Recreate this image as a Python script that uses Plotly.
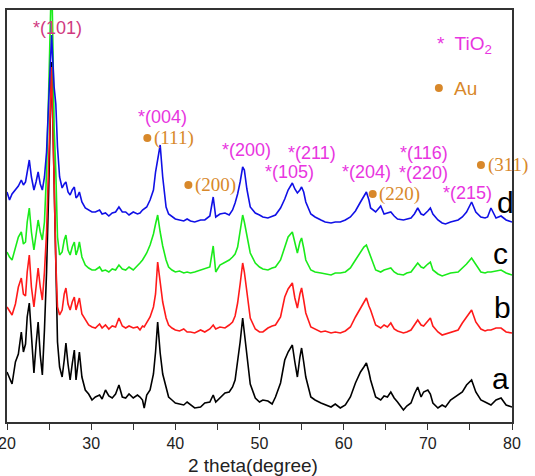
import plotly.graph_objects as go

# 2theta grid (degrees)
two_theta = [
    20.0, 20.3, 20.6, 21.0, 21.35, 21.7, 21.95, 22.2, 22.4, 22.65,
    22.9, 23.2, 23.45, 23.7, 23.95, 24.2, 24.45, 24.7, 24.95, 25.15,
    25.3, 25.45, 25.6, 25.8, 26.0, 26.25, 26.55, 26.8, 27.0, 27.25,
    27.5, 27.75, 28.0, 28.2, 28.4, 28.6, 28.9, 29.3, 29.7, 30.1,
    30.5, 31.0, 31.3, 31.7, 32.1, 32.5, 32.9, 33.3, 33.7, 34.1,
    34.5, 35.0, 35.5, 35.8, 36.1, 36.3, 36.6, 37.0, 37.4, 37.65,
    37.9, 38.2, 38.5, 38.9, 39.2, 39.6, 40.0, 40.5, 41.0, 41.4,
    41.8, 42.3, 43.0, 43.5, 44.1, 44.5, 44.8, 45.3, 45.9, 46.4,
    46.8, 47.1, 47.4, 47.7, 48.0, 48.2, 48.5, 48.9, 49.5, 50.0,
    50.4, 51.0, 51.5, 51.9, 52.5, 53.0, 53.4, 53.9, 54.2, 54.5,
    54.8, 55.0, 55.25, 55.5, 56.1, 56.6, 57.3, 57.8, 58.5, 59.0,
    59.6, 60.2, 60.8, 61.4, 62.0, 62.4, 62.7, 63.0, 63.2, 63.8,
    64.4, 64.8, 65.2, 65.6, 66.0, 66.4, 67.1, 67.5, 68.0, 68.4,
    68.8, 69.2, 69.5, 70.0, 70.3, 70.6, 71.2, 71.7, 72.1, 72.7,
    73.6, 74.1, 74.6, 75.2, 75.7, 76.3, 76.8, 77.1, 77.5, 78.1,
    78.7, 79.3, 80.0,
]

# stacked intensities (a.u.)
int_a = [
    50, 44, 38, 60, 68, 90, 70, 78, 105, 119,
    82, 49, 77, 100, 67, 47, 92, 150, 230, 310,
    360, 300, 230, 150, 80, 55, 45, 62, 79, 58,
    42, 58, 72, 42, 55, 70, 45, 32, 28, 22,
    25, 27, 23, 32, 26, 24, 28, 37, 25, 24,
    28, 24, 27, 25, 22, 14, 27, 32, 48, 70,
    100, 69, 48, 35, 25, 22, 19, 18, 17, 20,
    17, 14, 15, 19, 20, 27, 20, 24, 29, 30,
    35, 42, 59, 80, 104, 90, 66, 38, 24, 20,
    22, 21, 18, 25, 39, 62, 70, 77, 60, 45,
    65, 74, 60, 45, 25, 22, 19, 17, 15, 18,
    14, 17, 25, 39, 50, 55, 59, 50, 42, 25,
    22, 26, 25, 30, 24, 20, 12, 16, 19, 28,
    35, 25, 30, 32, 28, 19, 14, 17, 15, 22,
    27, 30, 37, 42, 30, 22, 20, 19, 17, 22,
    24, 17, 15,
]
int_b = [
    115, 111, 107, 118, 135, 144, 128, 126, 150, 167,
    135, 115, 138, 154, 135, 122, 150, 190, 260, 320,
    355, 300, 230, 160, 115, 107, 112, 128, 134, 118,
    112, 120, 125, 112, 118, 124, 108, 102, 97, 95,
    94, 98, 94, 97, 93, 96, 95, 104, 96, 94,
    96, 94, 95, 92, 96, 95, 99, 105, 115, 128,
    160, 142, 120, 104, 97, 94, 92, 91, 93, 90,
    90, 89, 92, 90, 93, 97, 93, 95, 94, 97,
    100, 106, 119, 138, 159, 150, 128, 104, 93, 90,
    90, 94, 96, 97, 105, 125, 133, 139, 124, 114,
    128, 134, 122, 109, 95, 93, 90, 91, 89, 90,
    89, 91, 95, 105, 114, 120, 124, 116, 112, 97,
    94, 97, 95, 99, 93, 91, 89, 90, 92, 97,
    102, 97, 96, 101, 104, 96, 90, 87, 88, 89,
    92, 99, 105, 112, 100, 93, 91, 92, 92, 94,
    94, 90, 89,
]
int_c = [
    170, 165, 162, 175, 185, 190, 178, 180, 200, 214,
    190, 172, 190, 202, 190, 182, 200, 250, 330, 410,
    452, 380, 295, 250, 185, 167, 170, 182, 187, 172,
    167, 175, 180, 167, 172, 180, 165, 157, 154, 152,
    152, 155, 151, 152, 150, 153, 152, 157, 153, 152,
    155, 152, 156, 159, 162, 165, 169, 177, 188, 198,
    207, 190, 176, 162, 155, 152, 150, 151, 149, 150,
    149, 150, 152, 153, 155, 176, 150, 157, 160, 162,
    165, 168, 175, 192, 207, 200, 186, 169, 159, 155,
    153, 152, 154, 155, 162, 175, 185, 190, 178, 169,
    180, 184, 174, 162, 152, 150, 149, 148, 147, 149,
    149, 150, 154, 162, 170, 175, 177, 170, 164, 152,
    150, 152, 153, 154, 150, 148, 147, 149, 150, 154,
    159, 155, 154, 158, 160, 152, 148, 146, 147, 149,
    150, 154, 158, 164, 157, 150, 149, 150, 150, 151,
    152, 149, 147,
]
int_d = [
    230, 222, 228, 232, 236, 242, 237, 240, 252, 262,
    245, 232, 240, 250, 238, 232, 245, 270, 320, 360,
    387, 360, 335, 318, 275, 245, 234, 238, 240, 230,
    227, 232, 235, 224, 226, 230, 220, 214, 212, 210,
    210, 212, 208, 209, 206, 209, 210, 215, 210, 210,
    207, 210, 208, 209, 212, 213, 215, 222, 232, 250,
    262, 277, 245, 215, 208, 205, 203, 202, 201, 203,
    201, 200, 202, 202, 206, 225, 205, 208, 209, 207,
    212, 219, 228, 240, 255, 252, 233, 215, 209, 207,
    205, 204, 206, 207, 214, 223, 232, 239, 233, 229,
    232, 235, 230, 220, 208, 205, 202, 200, 199, 200,
    200, 202, 205, 211, 220, 226, 230, 222, 214, 210,
    216, 208, 209, 210, 206, 203, 202, 203, 204, 208,
    214, 208, 207, 211, 214, 208, 202, 199, 198, 200,
    202, 205, 210, 220, 210, 205, 204, 205, 214, 204,
    206, 202, 200,
]

series_names = ["a", "b", "c", "d"]
series_colors = ["#000000", "#ff1a1a", "#1aeb1a", "#1010e6"]

# peak labels
tio2_labels = ["*(004)", "*(200)", "*(211)", "*(105)", "*(204)", "*(116)", "*(220)", "*(215)"]
tio2_x = [38.45, 48.45, 56.19, 53.57, 62.74, 69.52, 69.52, 74.76]
tio2_y = [305, 272, 269, 250, 250, 269, 249, 229]

au_labels = ["(111)", "(200)", "(220)", "(311)"]
au_dot_x = [36.67, 41.55, 63.45, 76.31]
au_dot_y = [284, 237, 228, 257]

curve_label_x = [78.69, 78.93, 78.69, 79.17]
curve_label_y = [44, 115, 169, 220]

MAG = "#e835e0"
ORG = "#d8882a"

fig = go.Figure()
for name, col, ys in zip(series_names, series_colors, [int_a, int_b, int_c, int_d]):
    fig.add_trace(go.Scatter(x=two_theta, y=ys, mode="lines", name=name,
                             line=dict(color=col, width=1.6), showlegend=False))

# Au dots (peaks + legend dot)
fig.add_trace(go.Scatter(x=au_dot_x + [71.31], y=au_dot_y + [334], mode="markers",
                         marker=dict(color=ORG, size=8), showlegend=False, cliponaxis=False))

ann = []
ann.append(dict(x=25.95, y=394, text="*(101)", showarrow=False,
                font=dict(family="Liberation Sans", size=18, color="#d0397f")))
for t, x, y in zip(tio2_labels, tio2_x, tio2_y):
    ann.append(dict(x=x, y=y, text=t, showarrow=False,
                    font=dict(family="Liberation Sans", size=18, color=MAG)))
for t, x, y in zip(au_labels, au_dot_x, au_dot_y):
    ann.append(dict(x=x + 0.55, y=y, text=t, showarrow=False, xanchor="left",
                    font=dict(family="Liberation Serif", size=19, color=ORG)))
for t, x, y in zip(series_names, curve_label_x, curve_label_y):
    ann.append(dict(x=x, y=y, text=t, showarrow=False,
                    font=dict(family="Liberation Sans", size=30, color="#000000")))
ann.append(dict(x=70.8, y=377, text="*  TiO<sub>2</sub>", showarrow=False, xanchor="left",
                font=dict(family="Liberation Sans", size=19, color=MAG)))
ann.append(dict(x=72.9, y=334, text="Au", showarrow=False, xanchor="left",
                font=dict(family="Liberation Sans", size=19, color=ORG)))
ann.append(dict(x=0.488, y=-0.105, xref="paper", yref="paper", text="2 theta(degree)",
                showarrow=False, yanchor="middle",
                font=dict(family="Liberation Sans", size=19, color="#222222")))

fig.update_layout(
    width=535, height=476,
    margin=dict(l=7, r=23, t=10, b=54, autoexpand=False),
    paper_bgcolor="white", plot_bgcolor="white",
    annotations=ann,
    xaxis=dict(range=[20, 80], tick0=20, dtick=10, automargin=False,
               ticks="outside", ticklen=6, tickwidth=1.2, tickcolor="#333",
               minor=dict(dtick=5, tick0=20, ticks="outside", ticklen=6, tickwidth=1.2,
                          tickcolor="#333", showgrid=False),
               ticklabeloverflow="allow",
               showline=True, linecolor="#333", linewidth=1.5, mirror=True,
               showgrid=False, zeroline=False,
               tickfont=dict(family="Liberation Sans", size=16, color="#222")),
    yaxis=dict(range=[0, 412], showticklabels=False, ticks="", automargin=False,
               showline=True, linecolor="#333", linewidth=1.5, mirror=True,
               showgrid=False, zeroline=False),
)

fig.write_html("out.html")
